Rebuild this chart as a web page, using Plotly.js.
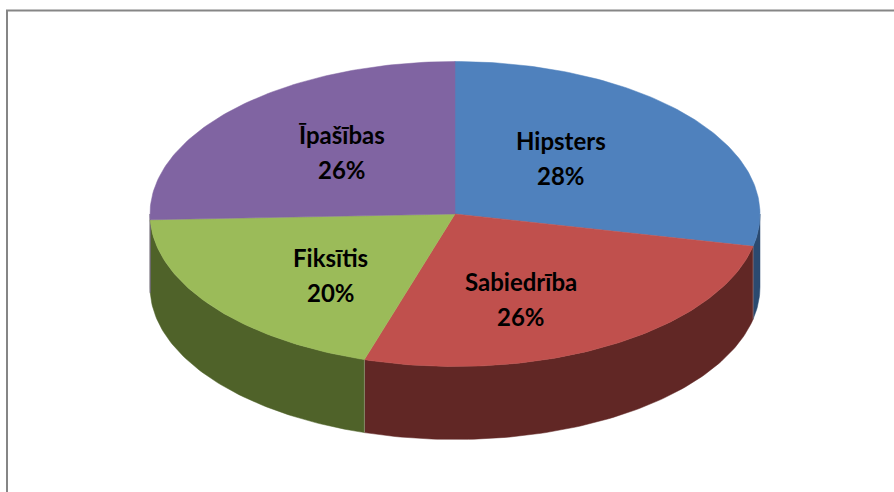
<!DOCTYPE html>
<html>
<head>
<meta charset="utf-8">
<script src="https://cdn.plot.ly/plotly-3.0.1.min.js"></script>
<style>html,body{margin:0;padding:0;background:#fff;}#chart{width:894px;height:492px;}</style>
</head>
<body>
<div id="chart"></div>
<script>
// ---- data ----
const categories = ['Hipsters', 'Sabiedrība', 'Fiksītis', 'Īpašības'];
const values = [28.4, 26.4, 19.6, 25.6];
const topColors = ['#4F81BD', '#C0504D', '#9BBB59', '#8064A2'];
const sideColors = ['#2B4A70', '#612725', '#4F6229', '#3F3151'];

// ---- geometry (style) ----
const W = 894, H = 492;
const cx = 455, cy = 214, rx = 305, ry = 152.5, depth = 73;
const labelKx = 0.48, labelKy = 0.62, labelDx = -8, labelDy = 4;
const total = values.reduce((a, b) => a + b, 0);

function pt(theta, dy) {
  return [cx + rx * Math.sin(theta), cy - ry * Math.cos(theta) + (dy || 0)];
}
function arc(a0, a1, dy) {
  const n = Math.max(2, Math.ceil(Math.abs(a1 - a0) / (2 * Math.PI) * 360));
  const xs = [], ys = [];
  for (let i = 0; i <= n; i++) {
    const p = pt(a0 + (a1 - a0) * i / n, dy);
    xs.push(p[0]); ys.push(p[1]);
  }
  return [xs, ys];
}

const sideTraces = [], topTraces = [], edgeTraces = [], annotations = [];
let cum = 0;
values.forEach((v, i) => {
  const a0 = cum / total * 2 * Math.PI;
  cum += v;
  const a1 = cum / total * 2 * Math.PI;
  // visible side wall (front half)
  const s0 = Math.max(a0, Math.PI / 2), s1 = Math.min(a1, 3 * Math.PI / 2);
  if (s1 > s0) {
    const t = arc(s0, s1, 0), b = arc(s1, s0, depth);
    sideTraces.push({
      type: 'scatter', mode: 'lines', x: t[0].concat(b[0], [t[0][0]]), y: t[1].concat(b[1], [t[1][0]]),
      fill: 'toself', fillcolor: sideColors[i], line: {width: 0.5, color: sideColors[i]},
      hoverinfo: 'skip', showlegend: false
    });
  }
  // top face
  const a = arc(a0, a1, 0);
  topTraces.push({
    type: 'scatter', mode: 'lines', x: [cx].concat(a[0], [cx]), y: [cy].concat(a[1], [cy]),
    fill: 'toself', fillcolor: topColors[i], line: {width: 0.5, color: topColors[i]},
    hoverinfo: 'skip', showlegend: false
  });
  // vertical edge where slice boundary meets the visible side
  if (a1 > Math.PI / 2 && a1 < 3 * Math.PI / 2) {
    const p = pt(a1, 0);
    edgeTraces.push({
      type: 'scatter', mode: 'lines', x: [p[0], p[0]], y: [p[1], p[1] + depth],
      line: {width: 1, color: 'rgba(255,255,255,0.25)'}, hoverinfo: 'skip', showlegend: false
    });
  }
  // labels
  const m = (a0 + a1) / 2;
  const lx = cx + labelDx + labelKx * rx * Math.sin(m);
  const ly = cy + labelDy - labelKy * ry * Math.cos(m);
  const font = {family: 'Lato, "Open Sans", sans-serif', size: 24, color: '#000', weight: 'bold'};
  annotations.push({x: lx, y: ly, xref: 'x', yref: 'y', text: categories[i], showarrow: false,
    font: font, yshift: 18, xanchor: 'center', yanchor: 'middle'});
  annotations.push({x: lx, y: ly, xref: 'x', yref: 'y', text: Math.round(v / total * 100) + '%', showarrow: false,
    font: font, yshift: -17, xanchor: 'center', yanchor: 'middle'});
});

const layout = {
  width: W, height: H,
  margin: {l: 0, r: 0, t: 0, b: 0},
  paper_bgcolor: '#ffffff', plot_bgcolor: '#ffffff',
  xaxis: {range: [0, W], visible: false, fixedrange: true},
  yaxis: {range: [H, 0], visible: false, fixedrange: true},
  showlegend: false,
  annotations: annotations,
  shapes: [{type: 'rect', xref: 'x', yref: 'y', x0: 7, y0: 10.5, x1: W + 20, y1: H + 20,
    line: {color: '#868686', width: 2}, fillcolor: 'rgba(0,0,0,0)', layer: 'below'}]
};

Plotly.newPlot('chart', sideTraces.concat(edgeTraces, topTraces), layout, {displayModeBar: false, staticPlot: true});
</script>
</body>
</html>
